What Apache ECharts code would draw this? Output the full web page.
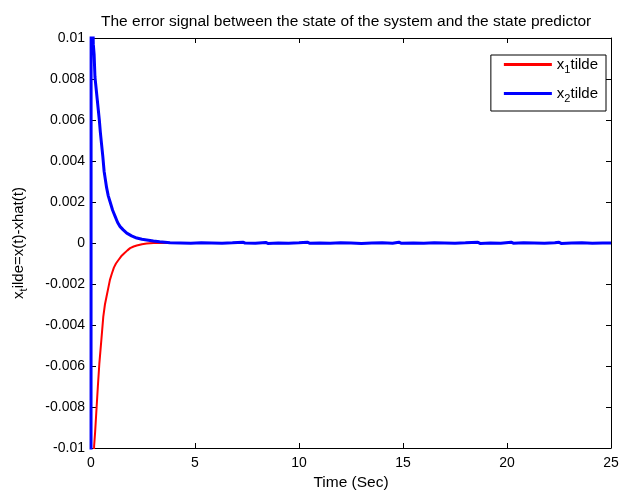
<!DOCTYPE html>
<html>
<head>
<meta charset="utf-8">
<script src="https://cdn.jsdelivr.net/npm/echarts@6/dist/echarts.min.js"></script>
<style>
  html, body { margin: 0; padding: 0; background: #fff; }
  #main { width: 620px; height: 490px; }
</style>
</head>
<body>
<div id="main"></div>
<script>
// x1 tilde (red)
var tRed = [0, 0.12, 0.15, 0.2, 0.27, 0.33, 0.4, 0.5, 0.59, 0.67, 0.75, 0.83, 0.91, 1.0, 1.1, 1.2, 1.32, 1.45, 1.6, 1.75, 1.88, 2.05, 2.2, 2.45, 2.68, 3.0, 25]
var xRed = [-0.02, -0.0125, -0.0099, -0.0092, -0.008, -0.007, -0.0059, -0.0047, -0.0036, -0.003, -0.0026, -0.0022, -0.0018, -0.0015, -0.0012, -0.001, -0.00083, -0.00065, -0.0005, -0.00036, -0.00025, -0.00017, -0.00012, -0.00006, -0.00003, 0, 0]

// x2 tilde (blue), small wiggles in the tail
var tBlue = [0, 0.005, 0.1, 0.11, 0.15, 0.19, 0.25, 0.3, 0.35, 0.4, 0.45, 0.51, 0.57, 0.63, 0.69, 0.75, 0.83, 0.92, 1.04, 1.16, 1.28, 1.4, 1.55, 1.72, 1.95, 2.2, 2.45, 2.68, 3.0, 3.3,
  3.8, 4.3, 4.8, 5.3, 5.8, 6.3, 6.8, 7.3, 7.4, 7.9, 8.4, 8.5, 9.0, 9.5, 10.0, 10.4, 10.5, 11.0, 11.5, 12.0, 12.5, 13.0, 13.5, 14.0, 14.5, 14.8, 14.9, 15.5, 16.0, 16.5, 17.0, 17.5, 18.0, 18.6, 18.7, 19.2, 19.7, 20.2, 20.3, 20.8, 21.3, 21.8, 22.3, 22.5, 22.6, 23.1, 23.6, 24.1, 24.6, 25]
var xBlue = [-0.02, 0.0108, 0.0103, 0.0097, 0.0092, 0.0081, 0.0075, 0.007, 0.0065, 0.006, 0.0054, 0.0048, 0.0042, 0.0035, 0.0031, 0.0027, 0.0023, 0.002, 0.0016, 0.0013, 0.001, 0.0008, 0.00064, 0.00048, 0.00035, 0.00024, 0.00018, 0.00015, 0.0001, 0.00006,
  0.00001, 0, -0.00001, 0.00001, 0, -0.00001, 0.00001, 0.00004, 0, -0.00001, 0.00003, -0.00002, 0, -0.00001, 0.00001, 0.00004, -0.00001, 0, -0.00001, 0.00001, 0, -0.00002, 0, 0.00001, -0.00001, 0.00004, -0.00001, 0, -0.00001, 0.00001, 0, -0.00001, 0.00001, 0.00004, -0.00002, 0, -0.00001, 0.00004, -0.00001, 0.00001, 0, -0.00001, 0.00001, 0.00004, -0.00002, 0, 0.00001, -0.00001, 0, 0]

var xTicks = { min: 0, max: 25, step: 5 }
var yTicks = { min: -0.01, max: 0.01, step: 0.002 }

function pairs(ts, vs) {
  return ts.map(function (t, i) { return [t, vs[i]] })
}

var chart = echarts.init(document.getElementById('main'))
var font = 'Liberation Sans, Arial, sans-serif'
var axisCommon = {
  type: 'value',
  axisLine: { onZero: false, lineStyle: { color: '#000', width: 1 } },
  axisTick: { inside: true, length: 5, lineStyle: { color: '#000' } },
  splitLine: { show: false }
}
var subRich = {
  a: { fontFamily: font, fontSize: 15, color: '#000' },
  s: { fontFamily: font, fontSize: 11, color: '#000', padding: [10, 0, 0, 0] }
}

chart.setOption({
  animation: false,
  backgroundColor: '#fff',
  title: {
    text: 'The error signal between the state of the system and the state predictor',
    left: 96,
    top: 9,
    textStyle: { fontFamily: font, fontSize: 15.5, fontWeight: 'normal', color: '#000' }
  },
  grid: { left: 91, right: 9, top: 38, bottom: 42, outerBoundsMode: 'none', containLabel: false },
  legend: {
    orient: 'vertical',
    right: 14,
    top: 55,
    padding: [2, 8, 7, 13],
    itemGap: 11,
    itemWidth: 48,
    itemHeight: 3,
    icon: 'rect',
    borderColor: '#000',
    borderWidth: 1,
    backgroundColor: '#fff',
    formatter: function (name) {
      return name === 'x1' ? '{a|x}{s|1}{a|tilde}' : '{a|x}{s|2}{a|tilde}'
    },
    textStyle: { rich: subRich }
  },
  xAxis: [
    Object.assign({}, axisCommon, {
      min: xTicks.min, max: xTicks.max, interval: xTicks.step,
      position: 'bottom',
      name: 'Time (Sec)',
      nameLocation: 'middle',
      nameGap: 27,
      nameTextStyle: { fontFamily: font, fontSize: 15.5, color: '#000' },
      axisLabel: { fontFamily: font, fontSize: 14, color: '#000', margin: 8 }
    }),
    Object.assign({}, axisCommon, {
      min: xTicks.min, max: xTicks.max, interval: xTicks.step,
      position: 'top',
      axisLabel: { show: false }
    })
  ],
  yAxis: [
    Object.assign({}, axisCommon, {
      min: yTicks.min, max: yTicks.max, interval: yTicks.step,
      position: 'left',
      name: '{a|x}{s|t}{a|ilde=x(t)-xhat(t)}',
      nameLocation: 'middle',
      nameGap: 62,
      nameTextStyle: { rich: subRich },
      axisLabel: {
        fontFamily: font, fontSize: 14, color: '#000', margin: 6,
        formatter: function (v) { return String(+v.toFixed(3)) }
      }
    }),
    Object.assign({}, axisCommon, {
      min: yTicks.min, max: yTicks.max, interval: yTicks.step,
      position: 'right',
      axisLabel: { show: false }
    })
  ],
  series: [
    {
      name: 'x1',
      type: 'line',
      data: pairs(tRed, xRed),
      showSymbol: false,
      color: '#ff0000',
      lineStyle: { width: 2, color: '#ff0000' }
    },
    {
      name: 'x2',
      type: 'line',
      data: pairs(tBlue, xBlue),
      showSymbol: false,
      color: '#0000ff',
      lineStyle: { width: 3, color: '#0000ff' }
    }
  ]
})
</script>
</body>
</html>
